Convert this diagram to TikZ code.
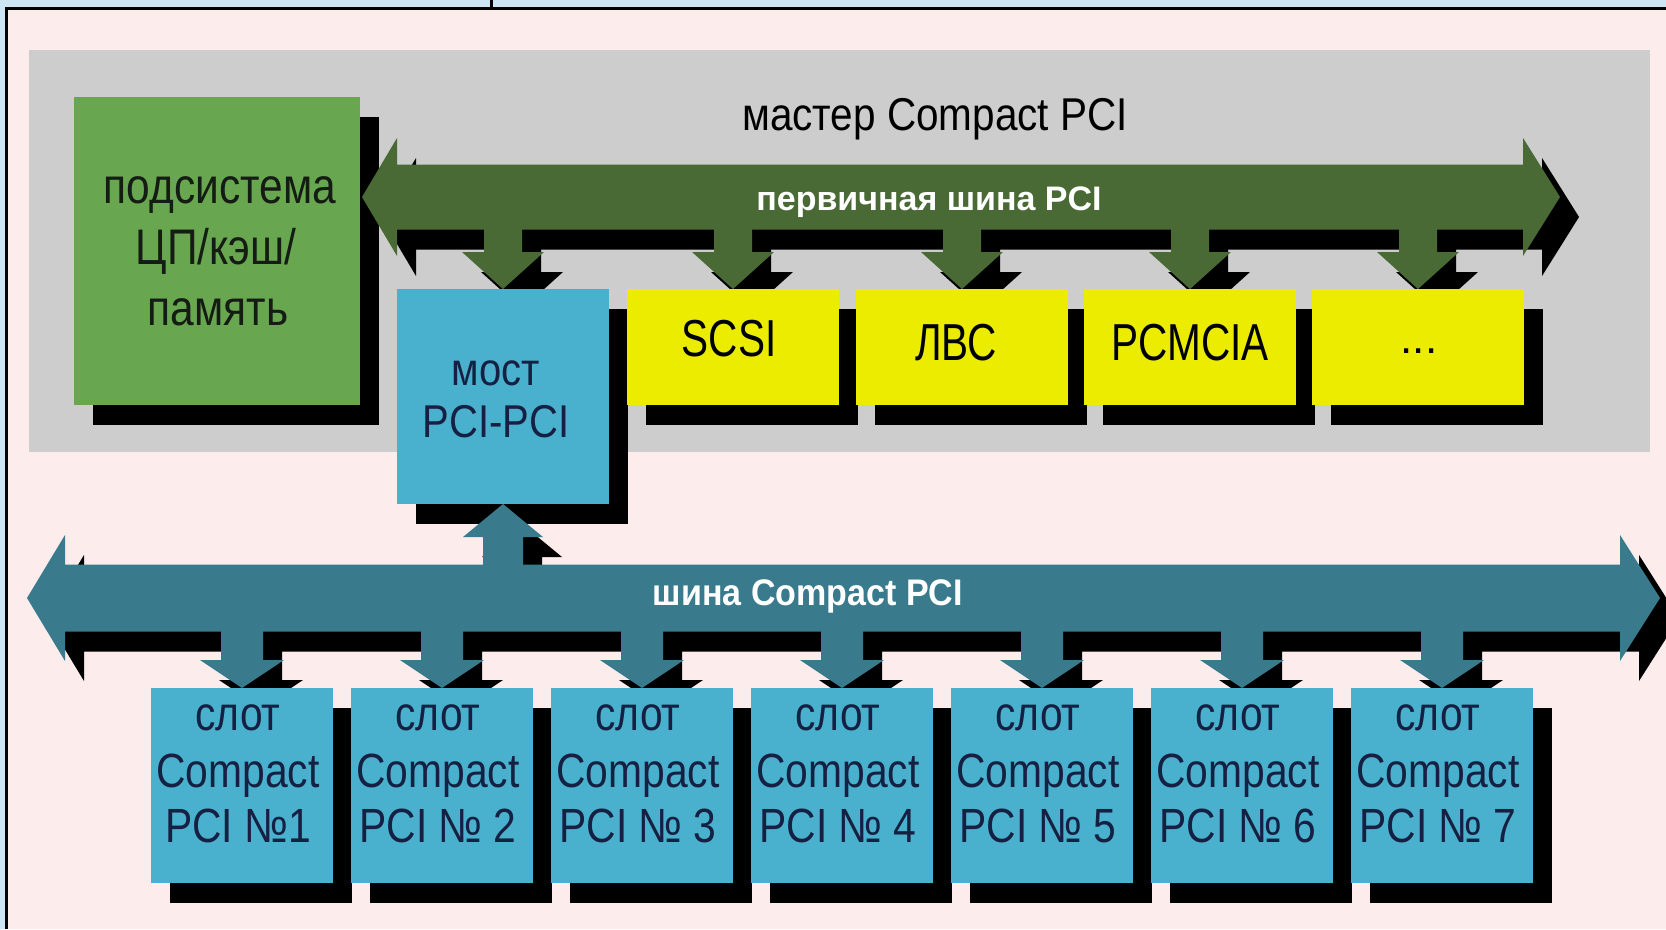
\documentclass[tikz,border=0pt]{standalone}
\usepackage{fontspec}
\setmainfont{Liberation Sans}
\newfontfamily\fontCpu[FakeStretch=0.85]{Liberation Sans}
\newfontfamily\fontDev[FakeStretch=0.78]{Liberation Sans}
\newfontfamily\fontBrg[FakeStretch=0.87]{Liberation Sans}
\newfontfamily\fontTtl[FakeStretch=0.88]{Liberation Sans}
\newfontfamily\fontSlt[FakeStretch=0.85]{Liberation Sans}
\newfontfamily\fontBus[FakeStretch=0.92]{Liberation Sans}
\newfontfamily\fontBusT[FakeStretch=1.0]{Liberation Sans}
\usetikzlibrary{calc}
\definecolor{pinkbg}{RGB}{252,236,236}
\definecolor{frameblue}{RGB}{204,228,243}
\definecolor{panelgray}{RGB}{205,205,206}
\definecolor{cpugreen}{RGB}{104,166,80}
\definecolor{busgreen}{RGB}{74,106,53}
\definecolor{bridgeblue}{RGB}{73,177,205}
\definecolor{busteal}{RGB}{57,122,141}
\definecolor{boxyellow}{RGB}{236,236,0}
\definecolor{navytext}{RGB}{22,32,66}
\definecolor{darktext}{RGB}{20,28,20}
\pgfdeclarelayer{base}
\pgfdeclarelayer{shadows}
\pgfdeclarelayer{fills}
\pgfsetlayers{base,shadows,fills,main}
\newcommand\withshadow[2]{%
  \begin{pgfonlayer}{shadows}%
    \begin{scope}[transform canvas={shift={(19,20)}}]%
      \fill[black] #2;%
    \end{scope}%
  \end{pgfonlayer}%
  \begin{pgfonlayer}{fills}%
    \fill[#1] #2;%
  \end{pgfonlayer}}
% #1 colour, #2 bus node, #3 target node, #4 head length, #5 head half width, #6 stem half width
\newcommand\droparrow[6]{\withshadow{#1}{(#3.north) -- ($(#3.north)+(#5,-#4)$) -- ($(#3.north)+(#6,-#4)$) -- ($(#3.north |- #2.center)+(#6,0)$) -- ($(#3.north |- #2.center)+(-#6,0)$) -- ($(#3.north)+(-#6,-#4)$) -- ($(#3.north)+(-#5,-#4)$) -- cycle}}
\newcommand\blockfill[2]{\withshadow{#2}{(#1.north west) rectangle (#1.south east)}}
\tikzset{
  blk/.style={inner sep=0pt, outer sep=0pt, anchor=north west},
  lbl/.style={inner sep=0pt, outer sep=0pt, anchor=base},
}
\begin{document}
\begin{tikzpicture}[x=1bp, y=-1bp]
\useasboundingbox (0,0) rectangle (1666,929);
\begin{pgfonlayer}{base}
  \fill[pinkbg] (0,0) rectangle (1666,929);
  \fill[frameblue] (0,0) rectangle (1666,7);
  \fill[frameblue] (0,0) rectangle (5,929);
  \fill[black] (5,7) rectangle (1666,10);
  \fill[black] (5,7) rectangle (8,929);
  \fill[black] (490,0) rectangle (493,7);
  \fill[panelgray] (29,50) rectangle (1650,452);
\end{pgfonlayer}

% block nodes
\node[blk, minimum width=286bp, minimum height=308bp] (cpu) at (74,97) {};
\node[blk, minimum width=212bp, minimum height=215bp] (bridge) at (397,289) {};
\node[blk, minimum width=212bp, minimum height=116bp] (scsi) at (627,289) {};
\node[blk, minimum width=212bp, minimum height=116bp] (lan) at (856,289) {};
\node[blk, minimum width=212bp, minimum height=116bp] (pcmcia) at (1084,289) {};
\node[blk, minimum width=212bp, minimum height=116bp] (more) at (1312,289) {};
\foreach \i in {1,...,7}{
  \node[blk, minimum width=182bp, minimum height=195bp] (slot\i) at ({151+200*(\i-1)},688) {};
}
\node[blk, minimum width=1126bp, minimum height=65bp] (tbus) at (397,164.5) {};
\node[blk, minimum width=1555bp, minimum height=67bp] (bbus) at (65,564.5) {};

% buses
\withshadow{busgreen}{($(tbus.west)+(-35,0)$) -- ($(tbus.north west)+(0,-26.5)$) -- (tbus.north west) -- (tbus.north east) -- ($(tbus.north east)+(0,-26.5)$) -- ($(tbus.east)+(37,0)$) -- ($(tbus.south east)+(0,26.5)$) -- (tbus.south east) -- (tbus.south west) -- ($(tbus.south west)+(0,26.5)$) -- cycle}
\withshadow{busteal}{($(bbus.west)+(-38,0)$) -- ($(bbus.north west)+(0,-29.5)$) -- (bbus.north west) -- (bbus.north east) -- ($(bbus.north east)+(0,-29.5)$) -- ($(bbus.east)+(40,0)$) -- ($(bbus.south east)+(0,29.5)$) -- (bbus.south east) -- (bbus.south west) -- ($(bbus.south west)+(0,29.5)$) -- cycle}

% connectors from the primary bus
\foreach \t in {bridge,scsi,lan,pcmcia,more}{
  \droparrow{busgreen}{tbus}{\t}{37}{41}{19}
}
% connectors from the Compact PCI bus
\foreach \i in {1,...,7}{
  \droparrow{busteal}{bbus}{slot\i}{28}{42}{21}
}
% bridge up arrow
\withshadow{busteal}{(bridge.south) -- ($(bridge.south)+(40,33)$) -- ($(bridge.south)+(20,33)$) -- ($(bridge.south |- bbus.center)+(20,0)$) -- ($(bridge.south |- bbus.center)+(-20,0)$) -- ($(bridge.south)+(-20,33)$) -- ($(bridge.south)+(-40,33)$) -- cycle}

% boxes
\blockfill{cpu}{cpugreen}
\blockfill{bridge}{bridgeblue}
\blockfill{scsi}{boxyellow}
\blockfill{lan}{boxyellow}
\blockfill{pcmcia}{boxyellow}
\blockfill{more}{boxyellow}
\foreach \i in {1,...,7}{\blockfill{slot\i}{bridgeblue}}

% texts
\node[lbl, font=\fontTtl\fontsize{46bp}{54bp}\selectfont] (title) at (935,130) {мастер Compact PCI};
\node[lbl, text=white, font=\fontBusT\bfseries\fontsize{34bp}{40bp}\selectfont] (tbuslbl) at (929,210) {первичная шина PCI};
\node[lbl, text=white, font=\fontBus\bfseries\fontsize{37bp}{44bp}\selectfont] (bbuslbl) at (808,605) {шина Compact PCI};

\node[lbl, text=darktext, font=\fontCpu\fontsize{50bp}{60bp}\selectfont] (cpuA) at (220,203) {подсистема};
\node[lbl, text=darktext, font=\fontCpu\fontsize{50bp}{60bp}\selectfont] (cpuB) at (216,264) {ЦП/кэш/};
\node[lbl, text=darktext, font=\fontCpu\fontsize{50bp}{60bp}\selectfont] (cpuC) at (218,325) {память};

\node[lbl, text=navytext, font=\fontBrg\fontsize{46bp}{54bp}\selectfont] (brA) at (496,385) {мост};
\node[lbl, text=navytext, font=\fontBrg\fontsize{46bp}{54bp}\selectfont] (brB) at (496,437) {PCI-PCI};

\node[lbl, font=\fontDev\fontsize{52bp}{60bp}\selectfont] (scsiT) at (729,356) {SCSI};
\node[lbl, font=\fontDev\fontsize{52bp}{60bp}\selectfont] (lanT) at (956,360) {ЛВС};
\node[lbl, font=\fontDev\fontsize{52bp}{60bp}\selectfont] (pcmciaT) at (1190,360) {PCMCIA};
\node[lbl, font=\fontsize{44bp}{50bp}\selectfont] (moreT) at (1419,353) {...};

\foreach \i/\n in {1/№1,2/№ 2,3/№ 3,4/№ 4,5/№ 5,6/№ 6,7/№ 7}{
  \node[lbl, text=navytext, font=\fontSlt\fontsize{48bp}{56bp}\selectfont] (slA\i) at ($(slot\i.north)+(-4,42)$) {слот};
  \node[lbl, text=navytext, font=\fontSlt\fontsize{48bp}{56bp}\selectfont] (slB\i) at ($(slot\i.north)+(-4,99)$) {Compact};
  \node[lbl, text=navytext, font=\fontSlt\fontsize{48bp}{56bp}\selectfont] (slC\i) at ($(slot\i.north)+(-4,154)$) {PCI \n};
}
\end{tikzpicture}
\end{document}
